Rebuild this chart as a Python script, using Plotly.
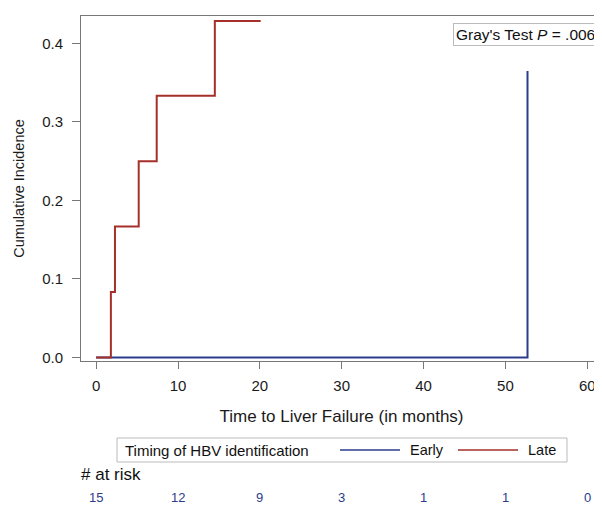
import plotly.graph_objects as go

# ---- data ----
late_time = [0, 1.8, 1.8, 2.3, 2.3, 5.2, 5.2, 7.4, 7.4, 14.5, 14.5, 20.1]
late_ci = [0, 0, 0.0833, 0.0833, 0.1667, 0.1667, 0.25, 0.25, 0.3333, 0.3333, 0.4286, 0.4286]
early_time = [0, 52.7, 52.7]
early_ci = [0, 0, 0.365]

risk_times = [0, 10, 20, 30, 40, 50, 60]
risk_early = ["15", "12", "9", "3", "1", "1", "0"]
risk_late = ["12", "8", "4", "2"]

BLUE = "#2B3C8C"
RED = "#A5302A"
FONT = "Liberation Sans, Arial, sans-serif"

OFF = 8  # default page body margin
W, H = 602 - OFF, 510 - OFF
ML, MR, MT, MB = 81 - OFF, 0, 16 - OFF, 149
PH = H - MT - MB


def py(pix):
    """page pixel row -> paper y"""
    return (H - MB - (pix - OFF)) / PH


def px(pix):
    """page pixel column -> paper x"""
    return (pix - OFF - ML) / (W - ML - MR)


fig = go.Figure()
fig.add_trace(go.Scatter(x=early_time, y=early_ci, mode="lines",
                         line=dict(color=BLUE, width=2), name="Early",
                         showlegend=False))
fig.add_trace(go.Scatter(x=late_time, y=late_ci, mode="lines",
                         line=dict(color=RED, width=2), name="Late",
                         showlegend=False))

fig.update_layout(
    width=W, height=H,
    margin=dict(l=ML, r=MR, t=MT, b=MB),
    paper_bgcolor="white", plot_bgcolor="white",
    font=dict(family=FONT, size=14, color="#1a1a1a"),
    xaxis=dict(range=[-1.85, 61.8], tickvals=risk_times, ticks="outside",
               ticklen=7, tickcolor="#777", showline=True, mirror=True,
               linecolor="#777", linewidth=1, showgrid=False, zeroline=False,
               tickfont=dict(size=15), ticklabelstandoff=4,
               title=dict(text="Time to Liver Failure (in months)",
                          font=dict(size=17), standoff=17)),
    yaxis=dict(range=[-0.0046, 0.435], tickvals=[0, 0.1, 0.2, 0.3, 0.4],
               tickformat=".1f", ticks="outside", ticklen=8,
               tickcolor="#777", showline=True, linecolor="#777",
               linewidth=1, showgrid=False, zeroline=False,
               tickfont=dict(size=15), ticklabelstandoff=6,
               title=dict(text="Cumulative Incidence", font=dict(size=14.5),
                          standoff=14)),
)

# Gray's test box
fig.add_annotation(xref="paper", yref="paper", x=px(598), y=py(23),
                   xanchor="right", yanchor="top",
                   text="Gray's Test <i>P</i> = .006", showarrow=False,
                   font=dict(size=15.5, color="#111"), bordercolor="#bbb",
                   borderwidth=1, borderpad=2, bgcolor="white")

# Legend box (drawn)
fig.add_shape(type="rect", xref="paper", yref="paper",
              x0=px(117), x1=px(567), y0=py(462), y1=py(438),
              line=dict(color="#bbb", width=1), fillcolor="white")
fig.add_annotation(xref="paper", yref="paper", x=px(123), y=py(450),
                   xanchor="left", yanchor="middle", showarrow=False,
                   text="Timing of HBV identification",
                   font=dict(size=15, color="#111"))
fig.add_shape(type="line", xref="paper", yref="paper",
              x0=px(340), x1=px(400), y0=py(450), y1=py(450),
              line=dict(color=BLUE, width=1.5))
fig.add_annotation(xref="paper", yref="paper", x=px(408), y=py(450),
                   xanchor="left", yanchor="middle", showarrow=False,
                   text="Early", font=dict(size=14.5, color="#111"))
fig.add_shape(type="line", xref="paper", yref="paper",
              x0=px(458), x1=px(518), y0=py(450), y1=py(450),
              line=dict(color=RED, width=1.5))
fig.add_annotation(xref="paper", yref="paper", x=px(526), y=py(450),
                   xanchor="left", yanchor="middle", showarrow=False,
                   text="Late", font=dict(size=14.5, color="#111"))

# At risk table
fig.add_annotation(xref="paper", yref="paper", x=px(79), y=py(475),
                   xanchor="left", yanchor="middle", showarrow=False,
                   text="# at risk", font=dict(size=17, color="#111"))
for t, v in zip(risk_times, risk_early):
    fig.add_annotation(xref="x", yref="paper", x=t, y=py(497),
                       xanchor="center", yanchor="middle", showarrow=False,
                       text=v, font=dict(size=13, color=BLUE))
for t, v in zip(risk_times, risk_late):
    fig.add_annotation(xref="x", yref="paper", x=t, y=py(505),
                       xanchor="center", yanchor="top", showarrow=False,
                       text=v, font=dict(size=13, color=RED))

fig.write_html("out.html")
